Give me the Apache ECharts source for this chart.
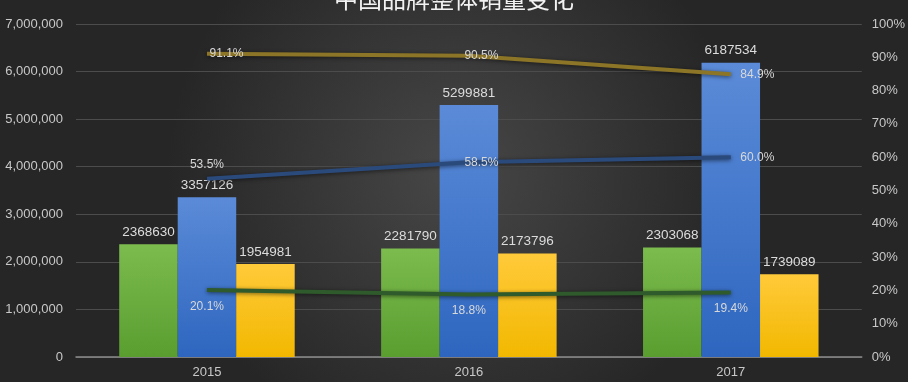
<!DOCTYPE html>
<html>
<head>
<meta charset="utf-8">
<script src="https://cdn.jsdelivr.net/npm/echarts@6/dist/echarts.min.js"></script>
<style>
html,body{margin:0;padding:0;background:#2e2e2e;}
#chart{width:908px;height:382px;}
</style>
</head>
<body>
<div id="chart"></div>
<script>
var title = '中国品牌整体销量变化';
var categories = ['2015', '2016', '2017'];
var sedanSales = [2368630, 2281790, 2303068];
var suvSales = [3357126, 5299881, 6187534];
var mpvSales = [1954981, 2173796, 1739089];
var mpvShare = [91.1, 90.5, 84.9];
var suvShare = [53.5, 58.5, 60.0];
var sedanShare = [20.1, 18.8, 19.4];
var leftTicks = [0, 1000000, 2000000, 3000000, 4000000, 5000000, 6000000, 7000000];
var rightTicks = [0, 10, 20, 30, 40, 50, 60, 70, 80, 90, 100];

var chart = echarts.init(document.getElementById('chart'));

function grad(top, bottom) {
  return new echarts.graphic.LinearGradient(0, 0, 0, 1, [
    {offset: 0, color: top}, {offset: 1, color: bottom}
  ]);
}

var labelStyles = {
  mpv: [{position: 'right', distance: 2}, {position: 'right', distance: -5}, {position: 'right', distance: 9}],
  suv: [{position: 'top', distance: 8}, {position: 'right', distance: -5}, {position: 'right', distance: 9}],
  sedan: [{position: 'bottom', distance: 10}, {position: 'bottom', distance: 10}, {position: 'bottom', distance: 10}]
};

function lineData(values, styles) {
  return values.map(function (v, i) {
    return {value: v, label: styles[i]};
  });
}

var fontFam = 'Liberation Sans, Arial, sans-serif';

function barSeries(name, data, c1, c2) {
  return {
    name: name, type: 'bar', data: data, yAxisIndex: 0,
    barGap: '0%', barCategoryGap: '33%',
    itemStyle: {color: grad(c1, c2)},
    label: {show: true, position: 'top', distance: 5, color: '#dcdcdc', fontSize: 13.5, fontFamily: fontFam}
  };
}

function lineSeries(name, data, color, styles) {
  return {
    name: name, type: 'line', yAxisIndex: 1, data: lineData(data, styles),
    symbol: 'circle', symbolSize: 1, showSymbol: true, z: 5,
    itemStyle: {color: 'rgba(0,0,0,0)'},
    lineStyle: {color: color, width: 4, shadowColor: 'rgba(0,0,0,0.55)', shadowBlur: 4, shadowOffsetY: 1},
    label: {show: true, color: '#d8d8d8', fontSize: 12, fontFamily: fontFam,
      formatter: function (p) { return Number(p.value).toFixed(1) + '%'; }}
  };
}

chart.setOption({
  backgroundColor: new echarts.graphic.RadialGradient(0.5, 0.45, 0.75, [
    {offset: 0, color: '#474747'}, {offset: 1, color: '#262626'}
  ]),
  animation: false,
  title: {
    text: title, left: 'center', top: -13, padding: 0,
    textStyle: {color: '#f2f2f2', fontSize: 24, fontWeight: 'normal',
      fontFamily: 'Noto Sans CJK SC, sans-serif'}
  },
  grid: {left: 76, right: 45, top: 24, bottom: 25},
  xAxis: {
    type: 'category', data: categories,
    axisLine: {lineStyle: {color: '#8c8c8c', width: 1.5}},
    axisTick: {show: false},
    axisLabel: {color: '#c8c8c8', fontSize: 13, margin: 9, fontFamily: fontFam}
  },
  yAxis: [{
    type: 'value', min: leftTicks[0], max: leftTicks[leftTicks.length - 1], interval: leftTicks[1] - leftTicks[0],
    axisLine: {show: false}, axisTick: {show: false},
    splitLine: {lineStyle: {color: '#4c4c4c', width: 1}},
    axisLabel: {color: '#c8c8c8', fontSize: 13, margin: 13, fontFamily: fontFam,
      formatter: function (v) { return v.toLocaleString('en-US'); }}
  }, {
    type: 'value', min: rightTicks[0], max: rightTicks[rightTicks.length - 1], interval: rightTicks[1] - rightTicks[0],
    axisLine: {show: false}, axisTick: {show: false},
    splitLine: {show: false},
    axisLabel: {color: '#c8c8c8', fontSize: 13, margin: 10, fontFamily: fontFam,
      formatter: '{value}%'}
  }],
  series: [
    barSeries('轿车', sedanSales, '#7cbb4e', '#5a9e30'),
    barSeries('SUV', suvSales, '#5b8bd8', '#2e66bf'),
    barSeries('MPV', mpvSales, '#ffca3a', '#f2b800'),
    lineSeries('MPV占有率', mpvShare, '#8c7526', labelStyles.mpv),
    lineSeries('SUV占有率', suvShare, '#2b4a7c', labelStyles.suv),
    lineSeries('轿车占有率', sedanShare, '#2f5a2b', labelStyles.sedan)
  ]
});
</script>
</body>
</html>
